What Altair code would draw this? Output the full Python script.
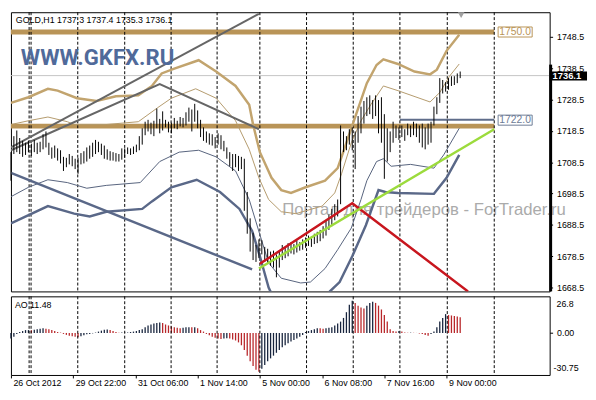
import altair as alt
import pandas as pd

# ---------------- data ----------------
# bar index t (one bar per step); price highs / lows
high = [1711.7, 1716.8, 1718.6, 1716.2, 1715.3, 1714.7, 1715.3, 1714.4, 1715.6, 1714.7,
        1715.0, 1717.4, 1718.3, 1714.7, 1713.2, 1713.8, 1712.9, 1712.3, 1710.2, 1709.9,
        1711.1, 1710.5, 1709.6, 1709.9, 1711.4, 1712.0, 1713.2, 1713.8, 1714.7, 1715.6,
        1715.0, 1714.4, 1713.8, 1712.6, 1712.0, 1711.7, 1711.4, 1711.1, 1712.9, 1712.9,
        1713.2, 1712.9, 1713.5, 1714.1, 1716.8, 1719.3, 1721.4, 1722.0, 1721.1, 1721.7,
        1725.6, 1722.3, 1724.7, 1722.0, 1721.4, 1721.1, 1722.6, 1721.7, 1722.9, 1722.6,
        1724.4, 1725.9, 1725.3, 1727.1, 1725.0, 1722.0, 1719.6, 1718.3, 1717.7, 1717.4,
        1716.5, 1717.7, 1717.1, 1715.3, 1713.2, 1711.7, 1711.1, 1711.1, 1710.5, 1710.2,
        1709.6, 1699.0, 1690.6, 1686.0, 1682.1, 1683.9, 1683.6, 1681.5, 1680.9, 1680.0,
        1680.3, 1679.1, 1680.0, 1682.1, 1681.5, 1682.7, 1683.0, 1682.4, 1683.6, 1683.0,
        1683.9, 1684.5, 1685.1, 1684.8, 1685.7, 1686.3, 1686.9, 1688.1, 1690.0, 1691.8,
        1693.6, 1695.1, 1696.6, 1720.2, 1718.3, 1716.8, 1719.0, 1719.6, 1718.3, 1723.2,
        1726.2, 1728.0, 1729.2, 1729.8, 1728.3, 1729.8, 1728.3, 1729.2, 1723.8, 1719.3,
        1718.3, 1721.4, 1720.2, 1719.6, 1720.2, 1719.0, 1720.8, 1720.2, 1721.4, 1720.8,
        1720.2, 1720.8, 1719.6, 1720.8, 1721.4, 1726.2, 1729.2, 1735.3, 1734.7, 1734.0,
        1735.3, 1735.9, 1735.9, 1736.8, 1737.4]
low = [1702.6, 1711.1, 1711.7, 1711.1, 1710.2, 1710.8, 1711.7, 1710.5, 1711.7, 1711.1,
       1711.7, 1712.6, 1713.2, 1710.8, 1709.6, 1709.9, 1709.0, 1708.1, 1705.7, 1706.9,
       1707.8, 1707.2, 1706.3, 1704.8, 1707.8, 1708.1, 1708.7, 1709.6, 1710.2, 1711.1,
       1711.7, 1710.8, 1709.6, 1709.3, 1709.0, 1709.0, 1708.7, 1708.7, 1709.3, 1709.9,
       1711.1, 1710.8, 1711.1, 1711.7, 1712.3, 1714.1, 1717.1, 1718.3, 1717.4, 1716.8,
       1719.3, 1717.7, 1718.6, 1719.6, 1718.0, 1717.7, 1719.3, 1719.0, 1719.9, 1719.6,
       1720.2, 1721.4, 1718.3, 1721.4, 1719.3, 1716.5, 1715.3, 1714.7, 1714.1, 1713.8,
       1712.9, 1714.1, 1712.6, 1712.0, 1709.6, 1707.2, 1705.7, 1706.9, 1705.7, 1706.3,
       1693.0, 1685.7, 1680.0, 1677.3, 1676.7, 1677.9, 1679.1, 1676.7, 1676.1, 1675.5,
       1674.9, 1671.8, 1674.9, 1677.3, 1677.9, 1678.5, 1679.4, 1679.1, 1679.7, 1680.3,
       1680.6, 1681.2, 1681.8, 1681.5, 1682.4, 1682.7, 1683.3, 1684.2, 1685.1, 1686.9,
       1688.1, 1690.0, 1691.2, 1695.1, 1711.7, 1712.3, 1714.1, 1712.3, 1706.3, 1714.7,
       1717.7, 1720.8, 1723.2, 1723.8, 1722.3, 1723.2, 1717.7, 1714.7, 1703.2, 1708.7,
       1711.7, 1714.7, 1716.2, 1715.6, 1716.5, 1715.3, 1717.1, 1716.5, 1717.1, 1716.5,
       1714.7, 1713.2, 1712.6, 1714.1, 1714.7, 1720.2, 1723.8, 1727.4, 1730.4, 1731.0,
       1731.6, 1732.8, 1733.1, 1733.7, 1735.3]
ao = [-4.1, -2.8, -0.7, 0.7, 1.4, 2.1, 2.1, 2.0, 2.4, 2.8,
      3.1, 3.5, 3.1, 2.8, 2.1, 1.4, 0.7, 0.3, -0.7, -1.4,
      -2.1, -2.4, -2.8, -3.1, -2.4, -1.7, -1.0, -0.7, -0.3, 0.3,
      1.0, 1.7, 2.4, 2.5, 2.1, 1.4, 0.7, 0.2, 0.25, 0.3,
      0.35, 0.7, 1.0, 1.4, 2.1, 2.8, 4.1, 5.5, 6.2, 6.9,
      7.2, 7.6, 7.2, 6.2, 5.5, 4.8, 4.1, 3.8, 3.5, 3.8,
      4.1, 4.2, 4.1, 4.2, 3.5, 2.1, 1.0, -0.7, -1.7, -2.8,
      -3.5, -4.1, -4.5, -4.1, -3.8, -4.1, -4.8, -5.5, -6.9, -9.0,
      -12.4, -16.6, -20.7, -24.2, -26.9, -28.3, -26.2, -23.5, -20.7, -18.6,
      -16.6, -14.5, -12.4, -10.4, -9.0, -7.6, -6.2, -5.2, -4.1, -2.8,
      -1.4, 0.7, 1.4, 2.1, 2.8, 3.5, 3.4, 3.1, 3.5, 3.8,
      4.1, 5.5, 6.9, 8.3, 11.0, 15.2, 20.7, 23.5, 22.0, 20.0,
      18.6, 17.9, 20.0, 22.0, 22.8, 22.0, 20.0, 17.2, 13.1, 8.3,
      2.8, 1.4, 1.0, 1.4, 1.0, 0.35, 0.2, 0.25, 0.15, 0.05,
      -0.35, -0.7, -1.4, -2.1, -0.7, 1.0, 4.1, 8.3, 11.0, 13.8,
      13.1, 12.8, 12.4, 12.1, 11.48]
bar_t = list(range(len(high)))

# envelope / band lines (t, price)
tan_thick_t = [0, 6, 12.67, 16, 22.67, 29.33, 36, 43.67, 48.33, 51.67, 56, 64.33, 70.33, 77, 81.67, 83,
               85.33, 89.33, 92.67, 96, 101, 107.67, 112, 115, 118.67, 122, 125.33, 127.67, 132.67,
               138.33, 143.67, 146, 149.33, 153.67]
tan_thick_p = [1727.4, 1729.2, 1731.9, 1731.3, 1728.9, 1728.0, 1729.5, 1729.8, 1732.8, 1736.8, 1738.3,
               1741.0, 1737.4, 1732.8, 1726.8, 1720.5, 1711.7, 1703.5, 1699.6, 1698.7, 1700.5, 1702.6,
               1706.6, 1714.7, 1724.7, 1733.7, 1739.5, 1741.3, 1739.8, 1737.4, 1736.5, 1738.0, 1744.0,
               1749.1]
tan_thin_t = [0, 6, 12.67, 19.33, 21.67, 32.67, 43.67, 50.33, 55, 63.33, 70.33, 77, 81.67, 85, 88.33,
              92.67, 97.67, 101, 106.67, 111, 113.33, 116.67, 120, 123.33, 127.67, 132.67, 143.67, 147,
              150.33, 153.67]
tan_thin_p = [1720.5, 1721.7, 1722.9, 1721.4, 1720.5, 1720.5, 1721.4, 1725.9, 1728.9, 1731.9, 1728.9,
              1721.7, 1712.6, 1703.5, 1696.6, 1692.7, 1692.1, 1693.0, 1694.5, 1698.7, 1704.8, 1714.7,
              1721.7, 1726.8, 1732.8, 1731.3, 1727.7, 1730.7, 1735.9, 1739.8]
blue_thin_t = [0, 6, 12.67, 19.33, 26, 32.67, 44.33, 51, 57.67, 64.33, 70.33, 77, 81.67, 85.33, 88.33,
               92.67, 99.33, 102.67, 107.67, 112, 116.67, 120, 122, 125.33, 127.67, 130.33, 137, 145,
               148.33, 153.67]
blue_thin_p = [1697.5, 1700.5, 1702.9, 1702.0, 1700.2, 1701.1, 1702.0, 1708.7, 1711.7, 1712.3, 1710.2,
               1705.7, 1696.6, 1685.4, 1676.4, 1671.5, 1670.0, 1670.3, 1674.6, 1680.6, 1687.5, 1696.6,
               1702.6, 1708.7, 1709.6, 1707.2, 1707.8, 1706.6, 1710.8, 1719.3]
blue_thick_t = [0, 12.67, 21.67, 27, 32.67, 45, 48.33, 55, 63.67, 71.67, 78.33, 82.67, 85.33, 88.33, 91,
                99.33, 106.67, 109.33, 112.67, 117, 121.67, 126, 128.33, 132.67, 145, 149.33, 153.67]
blue_thick_p = [1689.0, 1694.5, 1692.1, 1691.2, 1692.7, 1693.6, 1696.0, 1700.5, 1702.9, 1699.0, 1693.6,
                1686.6, 1678.5, 1668.5, 1663.4, 1661.0, 1664.0, 1667.3, 1670.3, 1678.5, 1688.4, 1699.6,
                1699.0, 1698.7, 1698.4, 1703.5, 1710.8]

# trend lines
grey_a_t, grey_a_p = [0, 85], [1713.2, 1755.8]
grey_b_t, grey_b_p = [0, 51, 85], [1712.3, 1733.4, 1719.0]
blue_diag_t, blue_diag_p = [0, 82.67], [1705.1, 1674.3]
red_t, red_p = [85.33, 117, 156.67], [1676.1, 1695.4, 1667.3]
green_t, green_p = [85, 165.67], [1674.6, 1719.0]

# horizontal levels
levels = [1750.0, 1720.0]
level_1722 = 1722.0
bid = 1736.1

# day separators and time labels
sep_t = [6.23, 6.9, 22.9, 39, 54.9, 70.67, 85.33, 101.33, 117.33, 133.33, 149.57, 165.67]
time_ticks = [0, 21.33, 42.67, 64, 85.33, 106.67, 128, 149.33]
time_labels = ['26 Oct 2012', '29 Oct 22:00', '31 Oct 06:00', '1 Nov 14:00',
               '5 Nov 00:00', '6 Nov 08:00', '7 Nov 16:00', '9 Nov 00:00']
price_ticks = [1668.5, 1678.5, 1688.5, 1698.5, 1708.5, 1718.5, 1728.5, 1738.5, 1748.5]

title_text = 'GOLD,H1  1737.3 1737.4 1735.3 1736.1'
ao_text = 'AO 11.48'

# ---------------- chart ----------------
FONT = 'Liberation Sans'
W, HM, HA = 548, 284, 80
XS = alt.Scale(domain=[0, 184.67], nice=False, zero=False)
YM = alt.Scale(domain=[1667.3, 1756.3], nice=False, zero=False)
YA = alt.Scale(domain=[-30.75, 26.8], nice=False, zero=False)
YAX = alt.Axis(orient='right', values=price_ticks, format='.1f', title=None,
               grid=False, domain=False, tickSize=3, labelPadding=4)
xN = lambda f: alt.X(f, type='quantitative', scale=XS, axis=None)
yN = lambda f: alt.Y(f, type='quantitative', scale=YM, axis=YAX)


def line(ts, ps, color, width):
    df = pd.DataFrame({'t': ts, 'p': ps, 'o': list(range(len(ts)))})
    return alt.Chart(df).mark_line(color=color, strokeWidth=width, clip=True).encode(
        x=xN('t'), y=yN('p'), order='o:Q')


def txt(s, x, y, **kw):
    return alt.Chart(pd.DataFrame({'s': [s]})).mark_text(align='left', baseline='middle', **kw).encode(
        text='s:N', x=alt.value(x), y=alt.value(y))


sep_df = pd.DataFrame({'t': sep_t})
bars_df = pd.DataFrame({'t': bar_t, 'high': high, 'low': low})

hl = alt.Chart(pd.DataFrame({'p': levels, 't0': [0, 0], 't1': [165.67, 165.67]})).mark_rule(
    color='#b99457', strokeWidth=5).encode(x=xN('t0'), x2='t1', y=yN('p'))
watermark = txt('Портал для трейдеров - ForTrader.ru', 276, 201, font=FONT, fontSize=17, color='#ababab')
bidline = alt.Chart(pd.DataFrame({'p': [bid]})).mark_rule(color='#c4c4c4', strokeWidth=1).encode(y=yN('p'))
hl22 = alt.Chart(pd.DataFrame({'p': [level_1722], 't0': [133.33], 't1': [165.67]})).mark_rule(
    color='#5f6d8a', strokeWidth=2).encode(x=xN('t0'), x2='t1', y=yN('p'))
seps = alt.Chart(sep_df).mark_rule(color='black', strokeWidth=1, strokeDash=[3, 2]).encode(x=xN('t'))

bands = [
    line(tan_thick_t, tan_thick_p, '#c2a46e', 2.5),
    line(tan_thin_t, tan_thin_p, '#b49a6c', 1),
    line(blue_thin_t, blue_thin_p, '#56627c', 1),
    line(blue_thick_t, blue_thick_p, '#5a6888', 2.5),
    line(grey_a_t, grey_a_p, '#666666', 2),
    line(grey_b_t, grey_b_p, '#666666', 2),
    line(blue_diag_t, blue_diag_p, '#5a6888', 2.5),
]
bars = alt.Chart(bars_df).mark_rule(color='black', strokeWidth=1).encode(
    x=xN('t'), y=yN('low'), y2='high:Q')
red = line(red_t, red_p, '#c8161e', 2.5)
green = line(green_t, green_p, '#9cdb3c', 2.5)

box_df = pd.DataFrame({'s': ['1750.0', '1722.0'], 't0': [167, 167], 't1': [178.67, 178.67],
                       'tc': [172.83, 172.83], 'p0': [1751.6, 1723.5], 'p1': [1748.4, 1720.3],
                       'pc': [1750.0, 1721.9], 'c': ['#b99457', '#6d7b95']})
boxes = alt.Chart(box_df).mark_rect(fill='white', strokeWidth=1).encode(
    x=xN('t0'), x2='t1', y=yN('p0'), y2='p1',
    stroke=alt.Color('c:N', scale=None))
box_txt = alt.Chart(box_df).mark_text(font=FONT, fontSize=10.5, baseline='middle', align='center').encode(
    x=xN('tc'), y=yN('pc'), text='s:N', color=alt.Color('c:N', scale=None))

bid_df = pd.DataFrame({'s': ['1736.1'], 'p': [bid], 'p0': [1737.4], 'p1': [1734.5]})
bid_box = alt.Chart(bid_df).mark_rect(color='black').encode(
    x=alt.value(548), x2=alt.value(586), y=yN('p0'), y2='p1')
bid_txt = alt.Chart(bid_df).mark_text(font=FONT, fontSize=9.5, fontWeight='bold', color='white',
                                      align='left', baseline='middle').encode(
    x=alt.value(551), y=yN('p'), text='s:N')
edge_df = pd.DataFrame({'p0': [1739.6], 'p1': [1667.3]})
edge = alt.Chart(edge_df).mark_rule(color='black', strokeWidth=3).encode(
    x=alt.value(549), y=yN('p0'), y2='p1')

tri = alt.Chart(pd.DataFrame({'t': [154.33]})).mark_point(
    shape='triangle-down', filled=True, color='#a0a0a0', size=45, opacity=1).encode(
    x=xN('t'), y=alt.value(3))

title = txt(title_text, 5, 8, font=FONT, fontSize=9, color='black')
logo = txt('WWW.GKFX.RU', 10, 47, font='Roboto', fontSize=22.5, fontWeight='bold', color='#506a9a')

main = alt.layer(hl, watermark, bidline, hl22, seps, *bands, bars, red, green, boxes, box_txt,
                 bid_box, bid_txt, edge, tri, title, logo).properties(width=W, height=HM)

# ---- AO panel ----
dirs = ['up' if i == 0 or ao[i] >= ao[i - 1] else 'down' for i in range(len(ao))]
ao_df = pd.DataFrame({'t': bar_t, 'v': ao, 'z': [0.0] * len(ao), 'd': dirs})
label_expr = '[' + ','.join("'%s'" % s for s in time_labels) + '][indexof([' + \
    ','.join(str(round(v)) for v in time_ticks) + '], round(datum.value))]'
XAX = alt.Axis(values=time_ticks, labelExpr=label_expr, orient='bottom',
               tickSize=3, labelAlign='left', labelPadding=1, labelOffset=2,
               grid=False, domain=False, title=None, labelOverlap=False,
               labelFlush=False, labelBound=False)
ao_bars = alt.Chart(ao_df).mark_rule(strokeWidth=1.3).encode(
    x=alt.X('t:Q', scale=XS, axis=XAX),
    y=alt.Y('v:Q', scale=YA, axis=alt.Axis(orient='right', values=[0], labelExpr="'0.00'", title=None,
                                          grid=False, domain=False, tickSize=3, labelPadding=4)),
    y2='z:Q',
    color=alt.Color('d:N', scale=alt.Scale(domain=['up', 'down'], range=['#17243d', '#b8272a']),
                    legend=None))
ao_seps = alt.Chart(sep_df).mark_rule(color='black', strokeWidth=1, strokeDash=[3, 2]).encode(
    x=alt.X('t:Q', scale=XS, axis=XAX))
ao_lbl = txt(ao_text, 4, 9, font=FONT, fontSize=9, color='black')
ao_max = txt('26.8', 555, 8, font=FONT, fontSize=9, color='black')
ao_min = txt('-30.75', 552, 73, font=FONT, fontSize=9, color='black')

ao_panel = alt.layer(ao_bars, ao_seps, ao_lbl, ao_max, ao_min).properties(width=W, height=HA)

chart = alt.vconcat(main, ao_panel, spacing=2).properties(padding=0).configure_view(
    stroke='black', strokeWidth=1).configure_axis(
    labelFont=FONT, labelFontSize=9, labelColor='black', tickColor='black')

chart.save('out.html', embed_options={'renderer': 'svg', 'actions': False})
